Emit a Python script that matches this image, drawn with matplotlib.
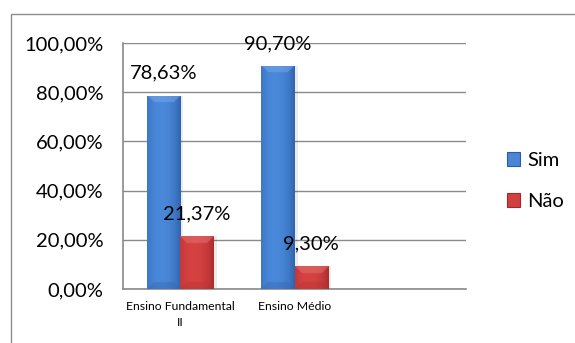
import numpy as np
import matplotlib
matplotlib.use("Agg")
import matplotlib.pyplot as plt
from matplotlib.patches import Rectangle, Patch
from matplotlib.colors import to_rgb

categories = ["Ensino Fundamental\nII", "Ensino Médio"]
sim = [78.63, 90.70]
nao = [21.37, 9.30]
series_names = ["Sim", "Não"]
yticks = [0, 20, 40, 60, 80, 100]

FONT = ["Lato", "DejaVu Sans"]
plt.rcParams['font.family'] = FONT

fig = plt.figure(figsize=(5.75, 3.43), dpi=100)
fig.patch.set_facecolor("white")
W, H = 575, 343
ax = fig.add_axes([123 / W, 1 - 289 / H, (466 - 123) / W, (289 - 43) / H])

# chart border
fig.patches.append(Rectangle((11 / W, -0.1), 1.2, (H - 14) / H + 0.1,
                             transform=fig.transFigure, fill=False,
                             edgecolor="#8c8c8c", linewidth=1.0, zorder=0))

x = np.arange(len(categories))
bw = 0.29
cols = {"Sim": dict(center="#4a88da", edge="#2a5ca4", top="#78a9ec", bot="#3566ae"),
        "Não": dict(center="#d64242", edge="#a22828", top="#e57373", bot="#b53333")}

bars_sim = ax.bar(x - bw / 2, sim, bw, color="#4a86d4", zorder=3, linewidth=0)
bars_nao = ax.bar(x + bw / 2, nao, bw, color="#d04040", zorder=3, linewidth=0)

ax.set_xlim(-0.5, 2.5)
ax.set_ylim(0, 100)


def shade(bar, c):
    bx, by = bar.get_x(), bar.get_y()
    w, h = bar.get_width(), bar.get_height()
    p0 = ax.transData.transform((bx, by))
    p1 = ax.transData.transform((bx + w, by + h))
    wpx, hpx = p1[0] - p0[0], p1[1] - p0[1]
    s = 3
    M, N = max(int(wpx * s), 2), max(int(hpx * s), 2)
    cen, edg = np.array(to_rgb(c["center"])), np.array(to_rgb(c["edge"]))
    top, bot = np.array(to_rgb(c["top"])), np.array(to_rgb(c["bot"]))
    t = (np.arange(M) + 0.5) / M
    f = np.clip(1 - ((t - 0.42) / 0.6) ** 2, 0, 1) ** 0.8
    row = edg[None, :] + (cen - edg)[None, :] * f[:, None]
    img = np.repeat(row[None, :, :], N, axis=0)
    b = 7 * s
    ii, jj = np.mgrid[0:N, 0:M]
    dside = np.minimum(jj, M - 1 - jj)
    dtop = ii
    dbot = N - 1 - ii
    mtop = (dtop < b) & (dtop <= dside)
    mbot = (dbot < b) & (dbot <= dside) & ~mtop
    img[mtop] = 0.5 * img[mtop] + 0.5 * top
    img[mbot] = 0.6 * img[mbot] + 0.4 * bot
    im = ax.imshow(img, extent=[bx, bx + w, by, by + h], aspect="auto",
                   origin="upper", zorder=4, interpolation="bilinear")
    im.set_clip_path(bar)
    # soft shadow
    ax.add_patch(Rectangle((bx + w * 0.1, by), w, h, facecolor="#000000",
                           alpha=0.08, zorder=2, linewidth=0))


for bar in bars_sim:
    shade(bar, cols["Sim"])
for bar in bars_nao:
    shade(bar, cols["Não"])

ax.set_xlim(-0.5, 2.5)
ax.set_ylim(0, 100)


def fmt(v):
    return f"{v:.2f}%".replace(".", ",")


for bars, vals in ((bars_sim, sim), (bars_nao, nao)):
    for bar, v in zip(bars, vals):
        ax.annotate(fmt(v), (bar.get_x() + bar.get_width() / 2, v),
                    xytext=(0, 16), textcoords="offset points",
                    ha="center", va="center", fontsize=14.5, color="black",
                    zorder=6)

ax.set_yticks(yticks)
ax.set_yticklabels([f"{v:.2f}%".replace(".", ",") for v in yticks], fontsize=14.5)
ax.set_xticks(x)
ax.set_xticklabels(categories, fontsize=8.8, linespacing=1.55)
ax.tick_params(axis="x", length=0, pad=9)
ax.tick_params(axis="y", length=0, pad=14)
ax.grid(axis="y", color="#8a8a8a", linewidth=1.0, zorder=1)
ax.set_axisbelow(True)
for sp in ("top", "right"):
    ax.spines[sp].set_visible(False)
for sp in ("left", "bottom"):
    ax.spines[sp].set_color("#8a8a8a")
    ax.spines[sp].set_linewidth(1.2)

handles = [Patch(facecolor="#4a86d4", edgecolor="#2a5ca4", linewidth=0.8),
           Patch(facecolor="#d04040", edgecolor="#a22828", linewidth=0.8)]
fig.legend(handles, series_names, loc="center left",
           bbox_to_anchor=(489 / W, 1 - 181 / H), frameon=False,
           fontsize=14.5, handlelength=0.65, handleheight=0.65,
           handletextpad=0.35, labelspacing=1.2)

fig.savefig("out.png", dpi=100, facecolor="white")
